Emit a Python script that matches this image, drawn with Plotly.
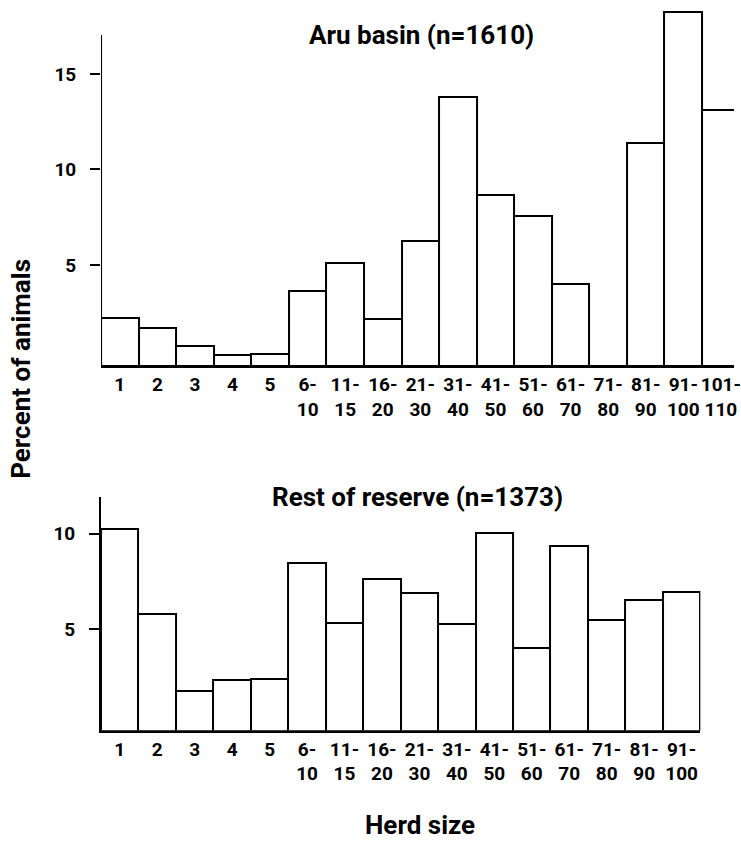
import plotly.graph_objects as go

# ---- data ----
top_labels = ["1", "2", "3", "4", "5", "6-<br>10", "11-<br>15", "16-<br>20", "21-<br>30",
              "31-<br>40", "41-<br>50", "51-<br>60", "61-<br>70", "71-<br>80", "81-<br>90",
              "91-<br>100", "101-<br>110"]
top_values = [2.24, 1.69, 0.78, 0.29, 0.36, 3.65, 5.10, 2.17, 6.27,
              13.8, 8.68, 7.58, 4.02, 0.0, 11.37, 18.26, 13.13]

bottom_labels = ["1", "2", "3", "4", "5", "6-<br>10", "11-<br>15", "16-<br>20", "21-<br>30",
                 "31-<br>40", "41-<br>50", "51-<br>60", "61-<br>70", "71-<br>80", "81-<br>90",
                 "91-<br>100"]
bottom_values = [10.24, 5.78, 1.76, 2.34, 2.37, 8.46, 5.34, 7.63, 6.92,
                 5.28, 10.06, 4.02, 9.37, 5.49, 6.53, 6.94]

y_ticks_top = [5, 10, 15]
y_ticks_bottom = [5, 10]

title_top = "Aru basin (n=1610)"
title_bottom = "Rest of reserve (n=1373)"
y_title = "Percent of animals"
x_title = "Herd size"

# ---- style ----
W, H = 741, 841
FONT = "Roboto, 'Liberation Sans Narrow', sans-serif"
BASE_TOP = -0.29
BASE_BOT = -0.32


def px_x(p):
    return p / W


def px_y(p):
    return 1 - p / H


fig = go.Figure()

fig.add_trace(go.Bar(
    x=list(range(len(top_values))),
    y=[(v - BASE_TOP) if v > 0 else 0 for v in top_values],
    base=BASE_TOP,
    marker=dict(color="white", line=dict(color="black", width=2)),
    xaxis="x", yaxis="y", showlegend=False, hoverinfo="skip",
))
fig.add_trace(go.Bar(
    x=list(range(len(bottom_values))),
    y=[(v - BASE_BOT) if v > 0 else 0 for v in bottom_values],
    base=BASE_BOT,
    marker=dict(color="white", line=dict(color="black", width=2)),
    xaxis="x2", yaxis="y2", showlegend=False, hoverinfo="skip",
))

tickfont = dict(family=FONT, size=19, color="black", weight="bold")

fig.update_layout(
    width=W, height=H,
    margin=dict(l=0, r=0, t=0, b=0),
    paper_bgcolor="white", plot_bgcolor="white",
    bargap=0,
    font=dict(family=FONT, color="black"),
    xaxis=dict(domain=[px_x(102), 1], range=[-0.5, 16.35],
               tickvals=list(range(len(top_labels))), ticktext=top_labels,
               showline=True, linecolor="black", linewidth=2, ticks="",
               showgrid=False, zeroline=False, tickfont=tickfont, anchor="y",
               ticklabeloverflow="allow", tickangle=0),
    yaxis=dict(domain=[px_y(366), 1], range=[BASE_TOP, 18.87],
               tickvals=y_ticks_top, ticks="outside", ticklen=10, tickwidth=2,
               tickcolor="black", showline=False, showgrid=False, zeroline=False,
               tickfont=tickfont, ticklabelstandoff=10, anchor="x"),
    xaxis2=dict(domain=[px_x(102), px_x(707)], range=[-0.5, 15.5],
                tickvals=list(range(len(bottom_labels))), ticktext=bottom_labels,
                showline=True, linecolor="black", linewidth=2, ticks="",
                showgrid=False, zeroline=False, tickfont=tickfont, anchor="y2",
                ticklabeloverflow="allow", tickangle=0),
    yaxis2=dict(domain=[px_y(730.7), px_y(497)], range=[BASE_BOT, 11.93],
                tickvals=y_ticks_bottom, ticks="outside", ticklen=10, tickwidth=2,
                tickcolor="black", showline=True, linecolor="black", linewidth=2,
                showgrid=False, zeroline=False,
                tickfont=tickfont, ticklabelstandoff=10, anchor="x2"),
)

# top y-axis line (shorter than plotting area)
fig.add_shape(type="line", xref="x", yref="y", x0=-0.5, x1=-0.5, y0=BASE_TOP, y1=17.04,
              line=dict(color="black", width=2))

bigfont = dict(family=FONT, size=26, color="black", weight="bold")
fig.add_annotation(text=title_top, xref="paper", yref="paper", x=px_x(426), y=px_y(35),
                   showarrow=False, font=bigfont, xanchor="center", yanchor="middle")
fig.add_annotation(text=title_bottom, xref="paper", yref="paper", x=px_x(421), y=px_y(497),
                   showarrow=False, font=bigfont, xanchor="center", yanchor="middle")
fig.add_annotation(text=y_title, xref="paper", yref="paper", x=px_x(21), y=px_y(369),
                   showarrow=False, font=bigfont, textangle=-90, xanchor="center", yanchor="middle")
fig.add_annotation(text=x_title, xref="paper", yref="paper", x=px_x(424), y=px_y(825),
                   showarrow=False, font=bigfont, xanchor="center", yanchor="middle")

fig.write_html("out.html", config={"displayModeBar": False},
               post_script="document.body.style.margin='0px';")
